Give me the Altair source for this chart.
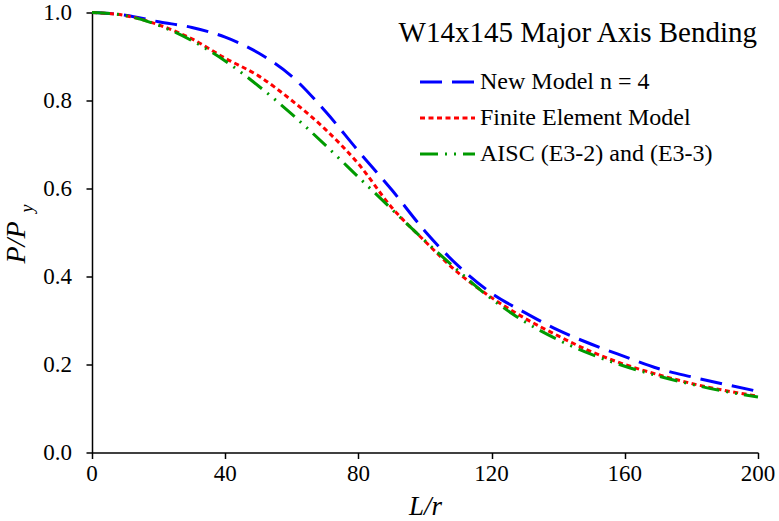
import altair as alt
import pandas as pd

L_r = [0, 10, 20, 30, 40, 50, 60, 70, 80, 90, 100, 110, 120, 130, 140, 150, 160, 170, 180, 190, 200]
new_model = [1.0, 0.994, 0.979, 0.966, 0.944, 0.908, 0.855, 0.776, 0.685, 0.597, 0.503, 0.424, 0.362, 0.318, 0.278, 0.246, 0.218, 0.191, 0.172, 0.155, 0.139]
fe_model = [1.0, 0.993, 0.972, 0.940, 0.896, 0.856, 0.800, 0.735, 0.656, 0.557, 0.480, 0.408, 0.352, 0.305, 0.265, 0.229, 0.200, 0.177, 0.157, 0.141, 0.128]
aisc = [1.0, 0.993, 0.971, 0.936, 0.890, 0.833, 0.769, 0.699, 0.626, 0.553, 0.481, 0.413, 0.349, 0.297, 0.256, 0.223, 0.196, 0.174, 0.155, 0.139, 0.126]
series_names = ["New Model n = 4", "Finite Element Model", "AISC (E3-2) and (E3-3)"]
series_colors = ["#0000FF", "#FF0000", "#009A00"]
series_dash = [[22, 10], [5, 3.5], [18, 7, 2, 7, 2, 7]]

x_ticks = [0, 40, 80, 120, 160, 200]
x_tick_labels = ["0", "40", "80", "120", "160", "200"]
y_ticks = [0.0, 0.2, 0.4, 0.6, 0.8, 1.0]
y_tick_labels = ["0.0", "0.2", "0.4", "0.6", "0.8", "1.0"]

rows = []
for name, vals in zip(series_names, [new_model, fe_model, aisc]):
    for x, y in zip(L_r, vals):
        rows.append({"series": name, "L": x, "P": y})
df = pd.DataFrame(rows)

FONT = "Liberation Serif"

xscale = alt.Scale(domain=[0, 200])
yscale = alt.Scale(domain=[0, 1])

lines = alt.Chart(df).mark_line(strokeWidth=3, interpolate="monotone").encode(
    x=alt.X("L:Q", scale=xscale,
            axis=alt.Axis(values=x_ticks, labels=False, title="L/r",
                          titleFont=FONT, titleFontStyle="italic", titleFontWeight="normal",
                          titleFontSize=27, titlePadding=34, titleColor="black")),
    y=alt.Y("P:Q", scale=yscale,
            axis=alt.Axis(values=y_ticks, labels=False, title=None)),
    color=alt.Color("series:N", sort=series_names,
                    scale=alt.Scale(domain=series_names, range=series_colors),
                    legend=alt.Legend(title=None, orient="none", legendX=343, legendY=57,
                                      symbolType="M-2.5,0H2.5", symbolSize=484, symbolStrokeWidth=3,
                                      labelFont=FONT, labelFontSize=24, labelColor="black",
                                      labelOffset=20, rowPadding=11, labelLimit=400)),
    strokeDash=alt.StrokeDash("series:N", sort=series_names,
                              scale=alt.Scale(domain=series_names, range=series_dash),
                              legend=None),
    order=alt.Order("L:Q"),
)

xlab_df = pd.DataFrame({"L": x_ticks, "lab": x_tick_labels})
xlabels = alt.Chart(xlab_df).mark_text(font=FONT, fontSize=23, baseline="top", align="center",
                                       color="black").encode(
    x=alt.X("L:Q", scale=xscale), y=alt.value(450), text="lab:N")

ylab_df2 = pd.DataFrame({"P": y_ticks, "lab": y_tick_labels})
ylabels = alt.Chart(ylab_df2).mark_text(font=FONT, fontSize=23, baseline="middle", align="right",
                                        color="black").encode(
    y=alt.Y("P:Q", scale=yscale), x=alt.value(-20), text="lab:N")

title_df = pd.DataFrame({"t": ["W14x145 Major Axis Bending"]})
title_txt = alt.Chart(title_df).mark_text(font=FONT, fontSize=29, align="right", baseline="alphabetic",
                                          color="black").encode(
    x=alt.value(665), y=alt.value(29.5), text="t:N")

ylab_df = pd.DataFrame({"t": ["P/P"]})
ylab = alt.Chart(ylab_df).mark_text(font=FONT, fontSize=28, fontStyle="italic", angle=270,
                                    align="center", baseline="alphabetic", color="black").encode(
    x=alt.value(-67), y=alt.value(230), text="t:N")
ysub_df = pd.DataFrame({"t": ["y"]})
ysub = alt.Chart(ysub_df).mark_text(font=FONT, fontSize=18, fontStyle="italic", angle=270,
                                    align="center", baseline="alphabetic", color="black").encode(
    x=alt.value(-59), y=alt.value(196), text="t:N")

chart = alt.layer(lines, xlabels, ylabels, title_txt, ylab, ysub).properties(
    width=666, height=440,
    autosize=alt.AutoSizeParams(type="none"),
    padding={"left": 92, "top": 12.5, "right": 21, "bottom": 68.5},
).configure_view(stroke=None).configure_axis(
    grid=False, domainColor="black", domainWidth=1.5, tickColor="black", tickWidth=1.5,
    tickSize=6,
)

chart.save("out.html", embed_options={"renderer": "svg", "actions": False})
